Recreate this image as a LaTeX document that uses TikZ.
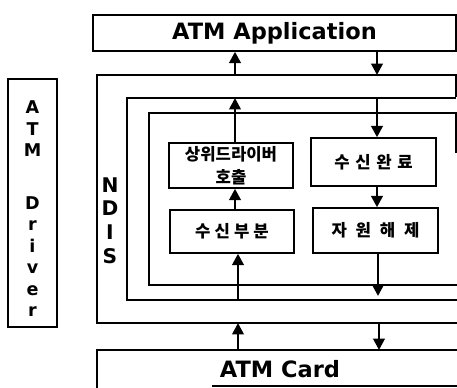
\documentclass[tikz,border=0pt]{standalone}
\usepackage{fontspec}
\setmainfont{DejaVu Sans}
\newfontfamily\kr{Noto Sans CJK KR}
\usetikzlibrary{arrows.meta,calc}
\begin{document}
\begin{tikzpicture}[x=0.02cm,y=-0.02cm,
  frame/.style={line width=0.8pt},
  box/.style={draw,line width=0.8pt,inner sep=0pt,align=center},
  arr/.style={line width=1.5pt,-{Triangle[width=6.5pt,length=6.5pt]}},
  kor/.style={font=\kr\bfseries\fontsize{9.5}{13}\selectfont},
  big/.style={font=\bfseries\fontsize{12.8}{15}\selectfont},
  stack/.style={anchor=north,align=center,inner sep=0pt}
]
\useasboundingbox (0,0) rectangle (457,387);
\clip (0,0) rectangle (457,387);

% frame corners
\coordinate (outT) at (97,75);
\coordinate (outB) at (97,323);
\coordinate (secT) at (127,98);
\coordinate (secB) at (127,300);
\coordinate (thT) at (149,113);
\coordinate (thB) at (149,285);
\coordinate (cardT) at (97,350);
\coordinate (cl) at (235,0);
\coordinate (cr) at (377,0);
\coordinate (bl) at (238,0);
\coordinate (br) at (379,0);
\coordinate (arrEnd) at (378,296);

% nested NDIS frames (open to the right)
\draw[frame] (456,97) -- (456,75) -- (outT) -- (outB) -- (460,323);
\draw[frame] (456,98) -- (secT) -- (secB) -- (460,300);
\draw[frame] (456,153) -- (456,113) -- (thT) -- (thB) -- (460,285);

% ATM Application
\node[box,big,minimum width=7.26cm,minimum height=0.72cm] (app) at (274.5,33) {ATM Application};

% ATM Card
\draw[frame] (97,390) -- (cardT) -- (460,350);
\draw[frame] (212,386) -- (460,386);
\node[big] (card) at (280,369) {ATM Card};

% ATM Driver
\node[draw,frame,minimum width=0.98cm,minimum height=4.96cm] (drv) at (32.5,203) {};
\node[stack,font=\bfseries\fontsize{10}{12.2}\selectfont] (drvtxt) at (32.5,100.5)
  {A\\T\\M\\[17.9pt]D\\r\\i\\v\\e\\r};

% NDIS label
\node[stack,font=\bfseries\fontsize{11.5}{13.6}\selectfont] (ndis) at (110,177) {N\\D\\I\\S};

% inner boxes
\node[box,kor,minimum width=2.48cm,minimum height=0.9cm] (call) at (231,165.5) {상위드라이버\\호출};
\node[box,kor,minimum width=2.5cm,minimum height=0.96cm] (done) at (373.5,162)
  {수\hspace{3.2pt}신\hspace{3.2pt}완\hspace{3.2pt}료};
\node[box,kor,minimum width=2.48cm,minimum height=0.86cm] (part) at (232,231.5)
  {수\hspace{2.3pt}신\hspace{2.3pt}부\hspace{2.3pt}분};
\node[box,kor,minimum width=2.5cm,minimum height=0.9cm] (free) at (375.5,230.5)
  {자\hspace{5pt}원\hspace{5pt}해\hspace{5pt}제};

% arrows
\draw[arr] (outT -| cl) -- (app.south -| cl);
\draw[arr] (app.south -| cr) -- (outT -| cr);
\draw[arr] (call.north -| cl) -- (secT -| cl);
\draw[arr] (secT -| cr) -- (done.north -| cr);
\draw[arr] (part.north -| cl) -- (call.south -| cl);
\draw[arr] (done.south -| cr) -- (free.north -| cr);
\draw[arr] (secB -| bl) -- (part.south -| bl);
\draw[arr] (free.south -| arrEnd) -- (arrEnd);
\draw[arr] (cardT -| bl) -- (outB -| bl);
\draw[arr] (outB -| br) -- (cardT -| br);
\end{tikzpicture}
\end{document}
